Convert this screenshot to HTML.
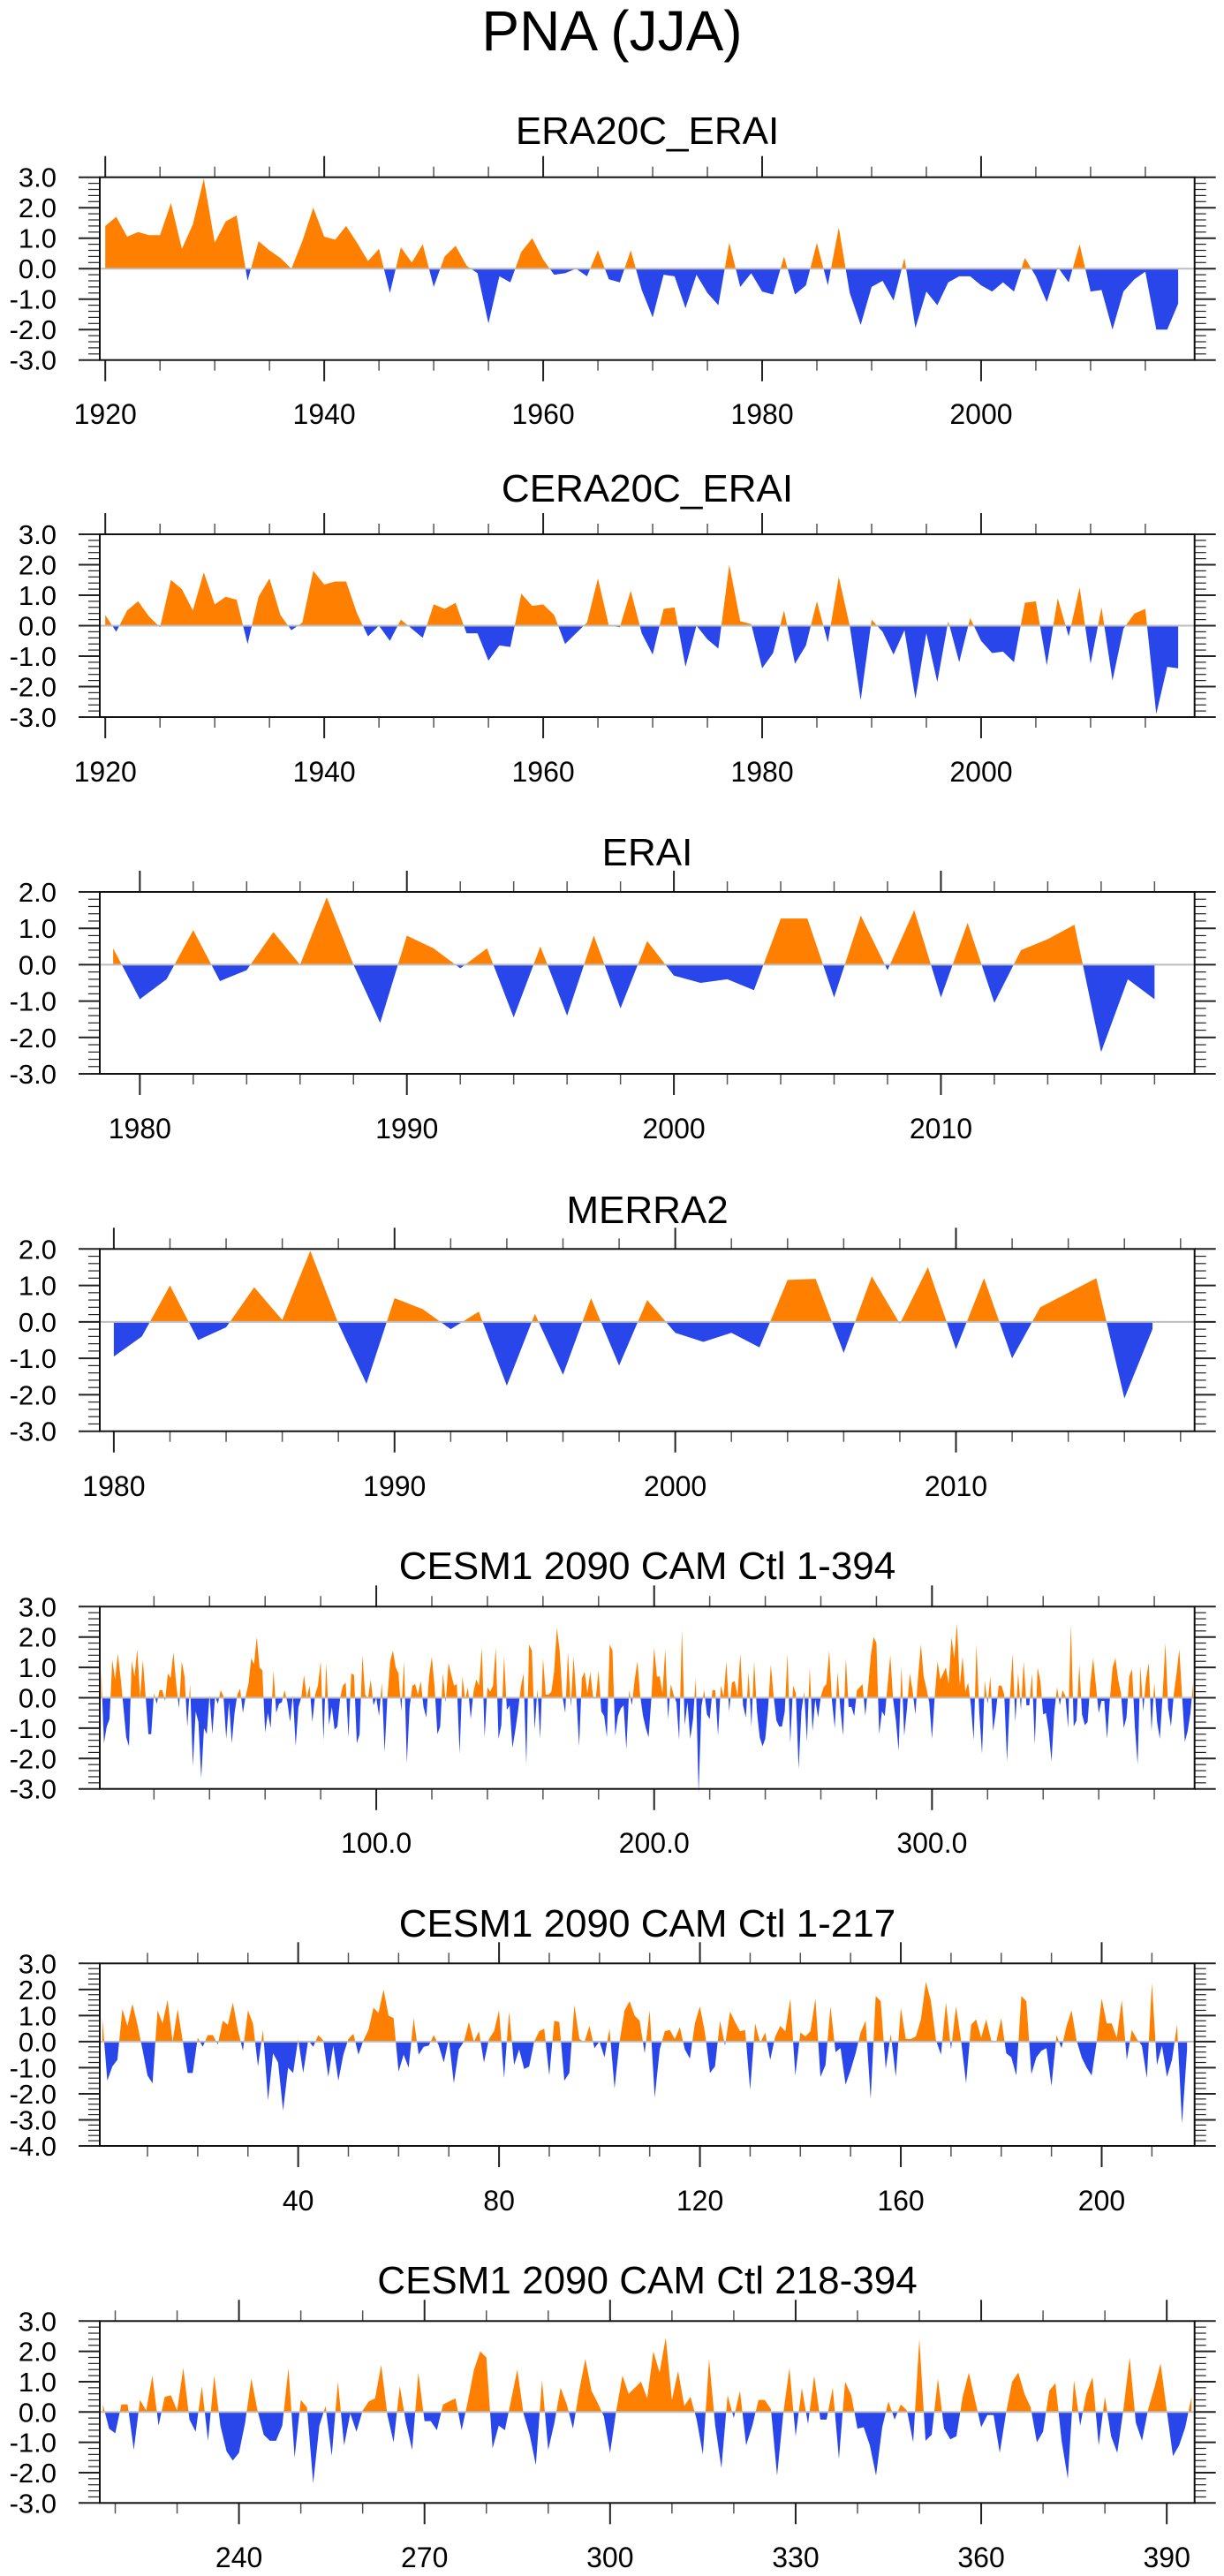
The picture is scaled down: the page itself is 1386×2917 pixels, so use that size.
<!DOCTYPE html>
<html>
<head>
<meta charset="utf-8">
<style>
  html,body{margin:0;padding:0;background:#fff;}
  svg{display:block;}
  text{font-family:"Liberation Sans",Arial,sans-serif;fill:#000;}
</style>
</head>
<body>
<svg id="chart" width="1386" height="2917" viewBox="0 0 1386 2917" xmlns="http://www.w3.org/2000/svg">
  <rect x="0" y="0" width="1386" height="2917" fill="#fff"/>
  <text x="693" y="57" font-size="64" text-anchor="middle">PNA (JJA)</text>
</svg>
<script>
// ---------- DATA ----------
const era20cStart = 1920;
const era20cValues = [1.4,1.7,1.05,1.2,1.1,1.1,2.15,0.65,1.45,2.95,
 0.85,1.55,1.75,-0.4,0.9,0.6,0.35,0.0,0.9,2.0,
 1.05,0.95,1.4,0.85,0.25,0.65,-0.8,0.7,0.2,0.8,
 -0.6,0.4,0.75,0.1,-0.15,-1.8,-0.25,-0.45,0.55,1.0,
 0.3,-0.2,-0.15,0.0,-0.25,0.6,-0.35,-0.45,0.6,-0.7,
 -1.6,-0.2,-0.25,-1.3,-0.2,-0.8,-1.2,0.85,-0.6,-0.15,
 -0.75,-0.85,0.4,-0.85,-0.55,0.85,-0.55,1.35,-0.8,-1.85,
 -0.6,-0.4,-1.05,0.35,-1.95,-0.75,-1.2,-0.45,-0.25,-0.25,
 -0.55,-0.75,-0.45,-0.75,0.35,-0.25,-1.1,0.05,-0.45,0.8,
 -0.75,-0.7,-2.0,-0.75,-0.35,-0.1,-2.0,-2.0,-1.15];

const cera20cStart = 1920;
const cera20cValues = [0.35,-0.2,0.5,0.8,0.3,-0.05,1.5,1.2,0.5,1.75,
 0.7,0.95,0.85,-0.6,0.95,1.55,0.35,-0.15,0.1,1.8,
 1.35,1.45,1.45,0.4,-0.35,0.0,-0.5,0.2,-0.1,-0.4,
 0.7,0.55,0.75,-0.25,-0.25,-1.15,-0.65,-0.7,1.05,0.65,
 0.7,0.35,-0.6,-0.25,0.1,1.55,0.0,-0.05,1.15,-0.25,
 -0.95,0.55,0.6,-1.35,0.0,-0.45,-0.75,2.0,0.15,0.05,
 -1.4,-0.9,0.5,-1.25,-0.65,0.8,-0.55,1.6,0.0,-2.45,
 0.2,-0.2,-0.95,-0.15,-2.4,-0.25,-1.85,0.15,-1.2,0.25,
 -0.5,-0.9,-0.85,-1.2,0.75,0.8,-1.3,0.9,-0.35,1.25,
 -1.25,0.6,-1.8,-0.1,0.4,0.55,-2.9,-1.35,-1.4];

const eraiStart = 1979;
const eraiValues = [0.45,-0.95,-0.4,0.95,-0.45,-0.15,0.9,0.0,1.85,0.0,
 -1.6,0.8,0.45,-0.1,0.45,-1.45,0.5,-1.4,0.8,-1.2,
 0.65,-0.3,-0.5,-0.4,-0.7,1.27,1.27,-0.9,1.35,-0.15,
 1.5,-0.9,1.15,-1.05,0.4,0.7,1.1,-2.4,-0.4,-0.95];

const merra2Start = 1980;
const merra2Values = [-0.95,-0.4,1.0,-0.5,-0.15,0.95,0.05,1.95,-0.05,-1.7,
 0.65,0.35,-0.2,0.28,-1.75,0.22,-1.45,0.65,-1.2,0.6,
 -0.3,-0.55,-0.3,-0.7,1.15,1.18,-0.85,1.25,-0.05,1.5,
 -0.75,1.2,-1.0,0.4,0.8,1.2,-2.1,-0.2];

const cesmStart = 1;
const cesmValues = [0.9,-1.5,-0.95,-0.7,1.25,0.6,1.45,0.65,-0.3,-1.3,
 -1.6,1.2,0.7,1.6,0.0,1.25,0.05,-1.2,-1.2,0.15,
 -0.2,0.25,0.25,-0.1,0.8,0.65,1.5,0.45,-0.35,1.2,
 0.7,-0.95,0.45,-2.25,-0.45,-0.8,-2.65,-1.0,-1.2,0.1,
 -1.2,0.05,-0.2,0.25,0.05,-1.35,-0.15,-1.5,-0.5,0.1,
 0.3,-0.5,0.05,0.45,1.3,1.1,2.0,1.0,0.9,-1.15,
 -0.5,-1.0,0.9,-0.5,-0.2,-0.15,0.25,-0.15,-0.8,0.1,
 -1.6,-0.3,0.0,0.75,0.0,0.4,-0.8,0.1,0.4,1.2,
 -1.4,1.15,-0.9,-0.3,-1.05,-0.95,0.0,0.4,0.5,-1.3,
 0.8,0.75,-1.5,-1.2,1.4,0.1,-0.02,0.6,-0.25,0.0,
 -0.6,0.5,-1.8,0.0,1.2,1.55,1.0,0.8,-0.45,1.2,
 -2.15,-0.3,0.4,0.45,0.1,0.55,-0.3,-0.65,0.7,1.35,
 0.35,-1.2,-0.95,0.8,-0.15,1.15,0.75,0.4,0.45,-1.85,
 0.7,-0.05,0.35,-0.7,0.2,0.6,0.4,1.65,-1.3,0.35,
 0.2,0.4,1.65,-1.35,-0.9,1.35,-0.4,-0.25,-1.65,-1.1,
 -0.45,0.35,0.8,-2.2,1.75,1.55,-1.05,0.3,-1.35,1.3,
 0.1,0.1,0.2,0.85,2.3,1.55,0.05,-0.5,1.5,-0.3,
 1.35,0.05,-1.6,0.65,0.85,0.15,0.85,0.05,-0.02,0.9,
 -0.45,-0.6,-1.3,1.75,1.55,-1.25,-0.6,-0.35,-0.25,-1.7,
 0.25,-0.25,0.6,1.2,0.05,-0.6,-1.0,-1.3,-0.02,1.65,
 0.7,0.7,0.15,1.6,-0.7,0.45,0.1,-0.15,-1.4,2.25,
 -0.9,-0.15,-1.35,-0.7,0.65,-3.15,-0.3,
 0.25,-0.55,-0.7,0.25,0.25,-1.25,0.4,0.05,1.2,-0.45,
 0.5,0.55,0.05,1.45,-0.25,-0.65,0.85,-0.95,1.2,-0.45,
 -1.3,-1.6,-1.35,-0.35,1.1,0.05,-0.75,-0.95,-0.95,-0.45,
 1.45,-1.5,0.4,0.15,-2.35,-0.45,0.2,-1.45,1.0,-1.1,
 -0.05,-0.65,0.05,0.35,0.45,1.55,-0.1,-1.0,0.85,-0.35,
 -1.25,1.3,-0.3,-0.3,-0.6,0.25,0.35,0.45,-0.6,0.35,
 1.4,2.0,1.8,-1.2,-0.45,-0.6,0.4,1.4,-0.05,-0.75,
 -1.75,1.05,-1.25,-0.35,0.8,0.25,-0.55,0.7,1.75,0.7,
 0.3,-0.15,-1.35,0.05,1.2,0.6,0.8,1.0,0.45,2.0,
 1.3,2.45,0.4,1.35,0.2,0.5,-0.25,-1.4,1.75,-0.45,
 -1.85,0.55,-0.2,0.7,-1.1,-0.45,0.4,0.4,0.1,-2.1,
 -0.05,1.45,-0.8,0.8,-0.4,1.2,-0.25,-0.25,0.8,-1.55,
 1.0,0.55,-0.55,-0.5,-1.1,-2.1,-0.5,0.35,-0.25,0.25,
 0.05,-1.0,2.4,-0.95,-0.75,1.1,-0.55,-0.9,-0.8,0.5,
 1.3,0.4,-0.5,-0.1,-0.1,-1.35,-0.05,1.0,1.3,0.6,
 0.15,-1.0,-0.65,0.7,0.95,-0.95,-2.2,1.05,-0.45,0.6,
 1.15,-1.1,0.5,-0.8,-1.35,0.1,1.8,-0.35,-0.95,0.1,
 0.8,1.6,0.05,-1.45,-1.1,-0.5,0.5];
const cesmSplit = 217;

// tick labels
const yTicks6 = ["3.0","2.0","1.0","0.0","-1.0","-2.0","-3.0"];
const yTicks5 = ["2.0","1.0","0.0","-1.0","-2.0","-3.0"];
const yTicks7 = ["3.0","2.0","1.0","0.0","-1.0","-2.0","-3.0","-4.0"];
const era20cXLabels = ["1920","1940","1960","1980","2000"];
const eraiXLabels = ["1980","1990","2000","2010"];
const cesmAllXLabels = ["100.0","200.0","300.0"];
const cesmAXLabels = ["40","80","120","160","200"];
const cesmBXLabels = ["240","270","300","330","360","390"];

// ---------- LAYOUT ----------
const L = 113, R = 1352.7;
const panels = [
 {id:"era20c-erai", title:"ERA20C_ERAI", tb:163, T:200.7, B:407.7, lb:480, ymin:-3, ymax:3, xmin:1919.5, xmax:2019.5, minor:5, minorStart:1920, values:era20cValues, start:era20cStart, yt:yTicks6, xl:era20cXLabels},
 {id:"cera20c-erai", title:"CERA20C_ERAI", tb:568, T:605, B:812, lb:885, ymin:-3, ymax:3, xmin:1919.5, xmax:2019.5, minor:5, minorStart:1920, values:cera20cValues, start:cera20cStart, yt:yTicks6, xl:era20cXLabels},
 {id:"erai", title:"ERAI", tb:980, T:1010, B:1216, lb:1289, ymin:-3, ymax:2, xmin:1978.5, xmax:2019.5, minor:2, minorStart:1980, values:eraiValues, start:eraiStart, yt:yTicks5, xl:eraiXLabels},
 {id:"merra2", title:"MERRA2", tb:1385, T:1414.3, B:1620.7, lb:1694, ymin:-3, ymax:2, xmin:1979.5, xmax:2018.5, minor:2, minorStart:1980, values:merra2Values, start:merra2Start, yt:yTicks5, xl:eraiXLabels},
 {id:"cesm-1-394", title:"CESM1 2090 CAM Ctl 1-394", tb:1788, T:1819.3, B:2025.7, lb:2098, ymin:-3, ymax:3, xmin:0.5, xmax:394.5, minor:20, minorStart:20, values:cesmValues, start:cesmStart, yt:yTicks6, xl:cesmAllXLabels},
 {id:"cesm-1-217", title:"CESM1 2090 CAM Ctl 1-217", tb:2193, T:2223.3, B:2430, lb:2503, ymin:-4, ymax:3, xmin:0.5, xmax:218.5, minor:10, minorStart:10, values:cesmValues.slice(0,cesmSplit), start:cesmStart, yt:yTicks7, xl:cesmAXLabels},
 {id:"cesm-218-394", title:"CESM1 2090 CAM Ctl 218-394", tb:2597, T:2628.3, B:2834.3, lb:2907, ymin:-3, ymax:3, xmin:217.5, xmax:394.5, minor:10, minorStart:220, values:cesmValues.slice(cesmSplit), start:cesmStart+cesmSplit, yt:yTicks6, xl:cesmBXLabels}
];

const NS = "http://www.w3.org/2000/svg";
const svg = document.getElementById("chart");
function mk(tag, attrs, parent){
  const e = document.createElementNS(NS, tag);
  for (const k in attrs) e.setAttribute(k, attrs[k]);
  (parent||svg).appendChild(e);
  return e;
}

function fillPath(pts, sign, sx, sy){
  // pts: [[x,v],...]; sign +1 keeps positive part, -1 negative part
  const clip = v => sign > 0 ? Math.max(v,0) : Math.min(v,0);
  let d = "M" + sx(pts[0][0]).toFixed(2) + "," + sy(0).toFixed(2);
  for (let i=0;i<pts.length;i++){
    if (i>0){
      const [x0,v0] = pts[i-1], [x1,v1] = pts[i];
      if ((v0>0 && v1<0) || (v0<0 && v1>0)){
        const xc = x0 + (x1-x0)*(v0/(v0-v1));
        d += "L" + sx(xc).toFixed(2) + "," + sy(0).toFixed(2);
      }
    }
    d += "L" + sx(pts[i][0]).toFixed(2) + "," + sy(clip(pts[i][1])).toFixed(2);
  }
  d += "L" + sx(pts[pts.length-1][0]).toFixed(2) + "," + sy(0).toFixed(2) + "Z";
  return d;
}

panels.forEach(p => {
  const g = mk("g", {});
  
  
  const sx = v => L + (v - p.xmin)/(p.xmax - p.xmin)*(R - L);
  const sy = v => p.T + (p.ymax - v)/(p.ymax - p.ymin)*(p.B - p.T);

  const t = mk("text", {x:733, y:p.tb, "font-size":44, "text-anchor":"middle"}, g);
  t.textContent = p.title;
  
  

  const pts = p.values.map((v,i) => [p.start + i, v]);
  const pos = mk("path", {d:fillPath(pts, 1, sx, sy), fill:"#FF8000", stroke:"none"}, g);
  
  
  const neg = mk("path", {d:fillPath(pts, -1, sx, sy), fill:"#2946EB", stroke:"none"}, g);
  
  

  const zl = mk("line", {x1:L, x2:R, y1:sy(0), y2:sy(0), stroke:"#bdbdbd", "stroke-width":2}, g);
  
  

  // y minor ticks every 0.2
  for (let k = Math.round(p.ymin*5); k <= Math.round(p.ymax*5); k++){
    const v = k/5, y = sy(v);
    const major = (k % 5 === 0);
    const len = major ? 24 : 13;
    const w = major ? 2 : 1.2;
    const a = mk("line", {x1:L-len, x2:L, y1:y, y2:y, stroke:"#222", "stroke-width":w}, g);
    
    
    const b = mk("line", {x1:R, x2:R+len, y1:y, y2:y, stroke:"#222", "stroke-width":w}, g);
    
    
  }
  p.yt.forEach(lbl => {
    const v = parseFloat(lbl);
    const tx = mk("text", {x:64, y:sy(v)+11, "font-size":31, "text-anchor":"end"}, g);
    tx.textContent = lbl;
    
    
  });

  // x minor ticks
  const majorVals = p.xl.map(s => parseFloat(s));
  for (let v = p.minorStart; v <= p.xmax; v += p.minor){
    const x = sx(v);
    const isMajor = majorVals.some(m => Math.abs(m - v) < 1e-6);
    if (isMajor) continue;
    const a = mk("line", {x1:x, x2:x, y1:p.T-12, y2:p.T, stroke:"#555", "stroke-width":1.5}, g);
    
    
    const b = mk("line", {x1:x, x2:x, y1:p.B, y2:p.B+12, stroke:"#555", "stroke-width":1.5}, g);
    
    
  }
  p.xl.forEach(lbl => {
    const v = parseFloat(lbl), x = sx(v);
    const a = mk("line", {x1:x, x2:x, y1:p.T-24, y2:p.T, stroke:"#222", "stroke-width":2}, g);
    
    
    const b = mk("line", {x1:x, x2:x, y1:p.B, y2:p.B+24, stroke:"#222", "stroke-width":2}, g);
    
    
    const tx = mk("text", {x:x, y:p.lb, "font-size":32, "text-anchor":"middle"}, g);
    tx.textContent = lbl;
    
    
  });

  const fr = mk("rect", {x:L, y:p.T, width:R-L, height:p.B-p.T, fill:"none", stroke:"#111", "stroke-width":2}, g);
  
  
});
</script>
</body>
</html>
